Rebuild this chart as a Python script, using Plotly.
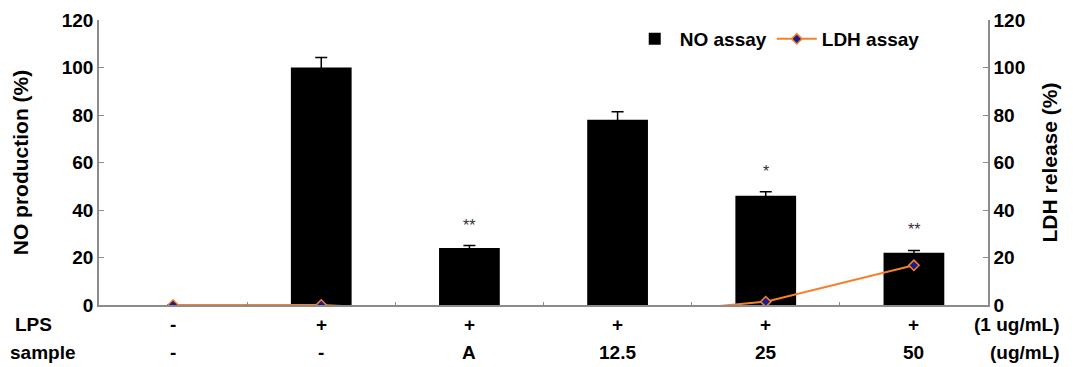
import plotly.graph_objects as go

categories = [0, 1, 2, 3, 4, 5]
lps_labels = ["-", "+", "+", "+", "+", "+"]
sample_labels = ["-", "-", "A", "12.5", "25", "50"]
no_values = [0, 100, 24, 78, 46, 22]
no_errors = [0, 4.2, 1.1, 3.4, 1.7, 0.9]
ldh_values = [0, 0, -3, -4.4, 1.4, 16.7]
sig_labels = ["", "", "**", "", "*", "**"]
sig_heights = [0, 0, 33.3, 0, 56.4, 31.6]

FONT = "Liberation Sans, Arial, sans-serif"
AXIS_GRAY = "#8c8c8c"
ORANGE = "#f5822a"
NAVY = "#1c1c8c"

fig = go.Figure()
fig.add_trace(go.Bar(
    x=categories, y=no_values, name="NO assay",
    marker=dict(color="black", line=dict(width=0)),
    width=0.41,
    error_y=dict(type="data", array=no_errors, visible=True,
                 color="black", thickness=1.5, width=6),
))
fig.add_trace(go.Scatter(
    x=categories, y=ldh_values, name="LDH assay", yaxis="y2",
    mode="lines+markers",
    line=dict(color=ORANGE, width=2),
    marker=dict(symbol="diamond", size=8, color=NAVY,
                line=dict(color=ORANGE, width=1.5)),
    cliponaxis=True,
))

annotations = []
for c, t, h in zip(categories, sig_labels, sig_heights):
    if t:
        annotations.append(dict(x=c, y=h, xref="x", yref="y", text=t,
                                showarrow=False,
                                font=dict(family=FONT, size=16, color="#333")))
row_y = [-0.07, -0.165]
for row, labels in zip(row_y, [lps_labels, sample_labels]):
    for c, t in zip(categories, labels):
        annotations.append(dict(x=c, y=row, xref="x", yref="paper", text=t,
                                showarrow=False, yanchor="middle",
                                font=dict(family=FONT, size=19, color="black", weight="bold")))
for t, y, x in zip(["LPS", "sample"], row_y, [-0.074, -0.064]):
    annotations.append(dict(x=x, y=y, xref="paper", yref="paper", text=t,
                            showarrow=False, xanchor="center", yanchor="middle",
                            font=dict(family=FONT, size=19, color="black", weight="bold")))
for t, y in zip(["(1 ug/mL)", "(ug/mL)"], row_y):
    annotations.append(dict(x=1.083, y=y, xref="paper", yref="paper", text=t,
                            showarrow=False, xanchor="right", yanchor="middle",
                            font=dict(family=FONT, size=19, color="black", weight="bold")))

tickfont = dict(family=FONT, size=19, color="black", weight="bold")
titlefont = dict(family=FONT, size=21, color="black", weight="bold")
fig.update_layout(
    width=1065, height=359,
    margin=dict(l=91, r=85, t=12, b=62, autoexpand=False),
    plot_bgcolor="white", paper_bgcolor="white",
    showlegend=True,
    legend=dict(orientation="h", x=0.597, y=1.0, xanchor="left", yanchor="top",
                font=dict(family=FONT, size=19, color="black", weight="bold"),
                bgcolor="rgba(0,0,0,0)", itemwidth=40),
    xaxis=dict(range=[-0.5, 5.5], tickvals=[0.5, 1.5, 2.5, 3.5, 4.5],
               showticklabels=False, ticks="inside", ticklen=3,
               tickcolor=AXIS_GRAY, showline=True, linecolor=AXIS_GRAY,
               linewidth=1.5, showgrid=False, zeroline=False, fixedrange=True),
    yaxis=dict(range=[0, 120], dtick=20, ticks="inside", ticklen=5,
               tickcolor=AXIS_GRAY, showline=True, linecolor=AXIS_GRAY,
               linewidth=1.5, showgrid=False, zeroline=False, tickfont=tickfont,
               title=dict(text="NO production (%)", font=titlefont, standoff=27)),
    yaxis2=dict(range=[0, 120], dtick=20, overlaying="y", side="right",
                ticks="inside", ticklen=5, tickcolor=AXIS_GRAY, showline=True,
                linecolor=AXIS_GRAY, linewidth=1.5, showgrid=False,
                zeroline=False, tickfont=tickfont,
                title=dict(text="LDH release (%)", font=titlefont, standoff=18)),
    annotations=annotations,
)
fig.write_html("out.html")
